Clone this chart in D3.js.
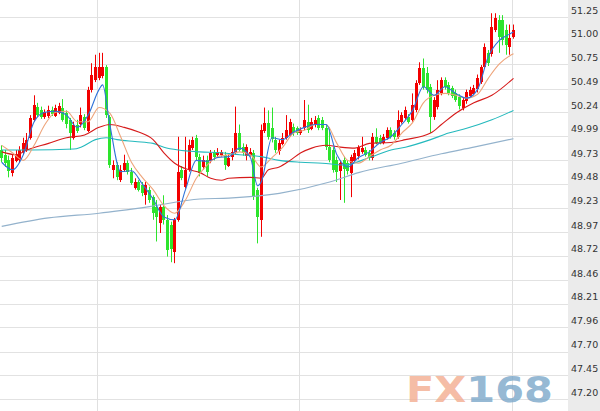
<!DOCTYPE html>
<html>
<head>
<meta charset="utf-8">
<script src="https://cdn.jsdelivr.net/npm/d3@7/dist/d3.min.js"></script>
<style>
  html, body { margin: 0; padding: 0; background: #fff; }
  svg { display: block; }
</style>
</head>
<body>
<script>
// candles, oldest first (price)
const opens = [
  49.84, 49.79, 49.73, 49.60, 49.73, 49.73, 49.81, 49.84, 49.97, 50.16,
  50.30, 50.26, 50.19, 50.20, 50.26, 50.21, 50.24, 50.29, 50.23, 50.16,
  49.97, 50.11, 50.11, 50.19, 50.05, 50.48, 50.58, 50.60, 50.62, 50.72,
  50.19, 49.63, 49.68, 49.52, 49.63, 49.70, 49.61, 49.44, 49.50, 49.47,
  49.36, 49.42, 49.34, 49.24, 49.07, 49.24, 49.10, 49.05, 48.76, 49.10,
  49.63, 49.45, 49.63, 49.87, 49.97, 49.77, 49.66, 49.73, 49.73, 49.82,
  49.79, 49.79, 49.79, 49.68, 49.77, 49.81, 50.02, 49.87, 49.77, 49.79,
  49.81, 49.42, 49.10, 50.05, 50.13, 50.07, 49.95, 49.82, 49.91, 49.97,
  50.00, 50.08, 50.07, 50.02, 50.07, 50.14, 50.07, 50.11, 50.18, 50.16,
  50.07, 49.87, 49.84, 49.73, 49.61, 49.73, 49.70, 49.60, 49.73, 49.77,
  49.82, 49.84, 49.81, 49.76, 49.98, 49.97, 49.92, 49.97, 50.05, 50.02,
  49.98, 50.14, 50.18, 50.19, 50.16, 50.26, 50.55, 50.71, 50.66, 50.51,
  50.19, 50.30, 50.44, 50.58, 50.53, 50.50, 50.44, 50.40, 50.29, 50.35,
  50.42, 50.44, 50.48, 50.56, 50.72, 50.87, 50.85, 51.11, 51.22, 51.22,
  51.11, 50.93, 51.04
];
const highs = [
  49.89, 49.84, 49.78, 49.79, 49.84, 49.88, 49.97, 50.02, 50.21, 50.42,
  50.34, 50.30, 50.27, 50.31, 50.30, 50.32, 50.34, 50.38, 50.26, 50.18,
  50.14, 50.16, 50.29, 50.22, 50.51, 50.76, 50.85, 50.87, 50.87, 50.74,
  50.21, 49.73, 49.71, 49.68, 49.79, 49.73, 49.65, 49.54, 49.52, 49.50,
  49.50, 49.45, 49.36, 49.31, 49.26, 49.36, 49.15, 49.08, 49.12, 49.98,
  49.67, 49.98, 49.95, 49.98, 50.00, 49.80, 49.78, 49.78, 49.84, 49.84,
  49.86, 49.84, 49.82, 49.79, 49.86, 50.30, 50.11, 49.91, 49.90, 49.86,
  49.84, 49.44, 50.11, 50.29, 50.26, 50.29, 49.98, 49.95, 50.02, 50.21,
  50.17, 50.12, 50.09, 50.08, 50.37, 50.32, 50.18, 50.20, 50.21, 50.19,
  50.11, 50.08, 49.87, 49.77, 49.73, 49.77, 49.73, 49.79, 49.84, 49.89,
  49.98, 49.87, 49.84, 50.02, 50.07, 50.00, 50.01, 50.08, 50.08, 50.05,
  50.26, 50.24, 50.30, 50.22, 50.44, 50.58, 50.77, 50.81, 50.72, 50.54,
  50.40, 50.58, 50.61, 50.61, 50.56, 50.52, 50.48, 50.43, 50.40, 50.48,
  50.51, 50.53, 50.64, 50.74, 50.97, 50.90, 51.29, 51.29, 51.27, 51.27,
  51.17, 51.17, 51.17
];
const lows = [
  49.71, 49.66, 49.55, 49.56, 49.71, 49.71, 49.79, 49.82, 49.95, 50.14,
  50.19, 50.17, 50.17, 50.18, 50.20, 50.19, 50.22, 50.14, 50.07, 49.84,
  49.95, 50.02, 50.08, 50.05, 50.03, 50.45, 50.56, 50.58, 50.60, 50.18,
  49.65, 49.54, 49.52, 49.50, 49.61, 49.58, 49.47, 49.42, 49.40, 49.35,
  49.26, 49.28, 49.10, 48.87, 48.96, 49.05, 48.71, 48.65, 48.64, 49.08,
  49.52, 49.43, 49.61, 49.84, 49.73, 49.56, 49.63, 49.56, 49.70, 49.73,
  49.76, 49.77, 49.63, 49.66, 49.73, 49.79, 49.82, 49.78, 49.73, 49.77,
  49.31, 48.85, 48.92, 50.02, 49.95, 49.92, 49.81, 49.79, 49.89, 49.95,
  49.98, 49.99, 50.00, 50.00, 50.05, 50.02, 50.05, 50.08, 50.05, 50.05,
  49.84, 49.71, 49.60, 49.50, 49.31, 49.28, 49.58, 49.34, 49.71, 49.74,
  49.80, 49.77, 49.73, 49.73, 49.90, 49.90, 49.90, 49.95, 49.96, 49.95,
  49.96, 50.12, 50.16, 50.12, 50.14, 50.24, 50.53, 50.48, 50.44, 50.02,
  50.16, 50.27, 50.42, 50.48, 50.42, 50.39, 50.35, 50.27, 50.26, 50.33,
  50.40, 50.42, 50.45, 50.54, 50.70, 50.73, 50.83, 51.09, 50.87, 50.95,
  50.85, 50.85, 51.02
];
const closes = [
  49.76, 49.70, 49.61, 49.76, 49.80, 49.84, 49.91, 49.95, 50.18, 50.32,
  50.21, 50.19, 50.24, 50.26, 50.22, 50.29, 50.31, 50.16, 50.11, 50.02,
  50.11, 50.05, 50.21, 50.07, 50.48, 50.64, 50.72, 50.72, 50.72, 50.21,
  49.68, 49.68, 49.55, 49.63, 49.70, 49.60, 49.49, 49.50, 49.42, 49.38,
  49.47, 49.31, 49.17, 49.13, 49.24, 49.10, 48.78, 48.80, 49.10, 49.61,
  49.55, 49.63, 49.89, 49.95, 49.77, 49.60, 49.73, 49.60, 49.81, 49.77,
  49.82, 49.82, 49.68, 49.76, 49.82, 50.02, 49.84, 49.81, 49.87, 49.82,
  49.34, 49.13, 50.05, 50.13, 49.98, 49.95, 49.84, 49.91, 49.97, 50.05,
  50.14, 50.02, 50.02, 50.05, 50.16, 50.05, 50.14, 50.16, 50.07, 50.08,
  49.87, 49.73, 49.63, 49.60, 49.70, 49.63, 49.61, 49.77, 49.81, 49.87,
  49.86, 49.79, 49.76, 49.98, 49.92, 49.92, 49.98, 50.05, 49.98, 49.98,
  50.16, 50.21, 50.26, 50.14, 50.32, 50.55, 50.71, 50.51, 50.48, 50.19,
  50.37, 50.48, 50.58, 50.51, 50.44, 50.42, 50.37, 50.30, 50.37, 50.45,
  50.48, 50.50, 50.60, 50.72, 50.93, 50.76, 51.14, 51.24, 51.04, 51.01,
  50.95, 51.03, 51.11
];

// moving averages, read at some candle indices
const ma1Idx = [0, 3, 6, 9, 12, 15, 18, 21, 24, 27, 28, 30, 33, 36, 39, 42, 45, 48, 51, 54,
  57, 60, 63, 66, 69, 71, 72, 75, 78, 81, 84, 87, 90, 93, 96, 99, 102, 105, 108, 111,
  114, 117, 120, 123, 126, 129, 132, 135, 138, 141, 142];
const ma1 = [49.71, 49.63, 49.79, 50.14, 50.24, 50.25, 50.21, 50.08, 50.21, 50.48,
  50.53, 50.11, 49.61, 49.62, 49.48, 49.32, 49.13, 49.10, 49.42, 49.73,
  49.72, 49.76, 49.77, 49.86, 49.76, 49.46, 49.50, 49.97, 49.95, 50.03,
  50.08, 50.11, 50.11, 49.79, 49.66, 49.76, 49.82, 49.92, 49.98, 50.11,
  50.26, 50.51, 50.42, 50.51, 50.44, 50.39, 50.48, 50.83, 51.00, 51.07, 51.09];

const ma2Idx = [0, 3, 6, 9, 12, 15, 18, 21, 24, 27, 30, 33, 36, 39, 42, 45, 48, 51, 54, 57,
  60, 63, 66, 69, 72, 75, 78, 81, 84, 87, 90, 93, 96, 99, 102, 105, 108, 111, 114, 117,
  120, 123, 126, 129, 132, 135, 138, 141, 142];
const ma2 = [49.89, 49.81, 49.73, 49.89, 50.11, 50.24, 50.25, 50.14, 50.14, 50.29,
  50.23, 49.98, 49.71, 49.55, 49.42, 49.25, 49.17, 49.31, 49.54, 49.68,
  49.77, 49.79, 49.82, 49.79, 49.66, 49.76, 49.87, 50.02, 50.05, 50.11,
  50.11, 49.91, 49.73, 49.70, 49.77, 49.84, 49.89, 50.02, 50.13, 50.34,
  50.42, 50.44, 50.42, 50.39, 50.43, 50.60, 50.75, 50.84, 50.86];

const ma3Idx = [0, 4, 7, 13, 18, 23, 27, 30, 34, 38, 42, 45, 48, 52, 55, 58, 61, 63, 69, 72,
  74, 77, 80, 83, 86, 90, 94, 98, 102, 108, 112, 119, 122, 126, 131, 136, 142];
const ma3 = [49.82, 49.79, 49.84, 49.91, 49.97, 50.00, 50.08, 50.11, 50.08, 50.03,
  49.95, 49.81, 49.70, 49.63, 49.60, 49.54, 49.52, 49.54, 49.55, 49.54,
  49.63, 49.66, 49.73, 49.81, 49.86, 49.89, 49.87, 49.86, 49.91, 49.92,
  49.95, 50.02, 50.11, 50.23, 50.34, 50.42, 50.60];

const ma4Idx = [0, 8, 20, 22, 26, 29, 32, 37, 42, 45, 49, 55, 61, 66, 72, 77, 83, 89, 95, 102,
  108, 112, 119, 124, 129, 136, 142];
const ma4 = [49.84, 49.84, 49.85, 49.87, 49.95, 49.97, 49.95, 49.93, 49.91, 49.87,
  49.84, 49.82, 49.81, 49.79, 49.77, 49.73, 49.71, 49.70, 49.68, 49.76,
  49.84, 49.87, 49.95, 50.02, 50.07, 50.16, 50.26];

const ma5Idx = [0, 13, 27, 41, 55, 63, 77, 91, 99, 111, 122, 131, 142];
const ma5 = [49.03, 49.12, 49.17, 49.24, 49.32, 49.33, 49.38, 49.50, 49.60, 49.70, 49.80, 49.87, 49.96];

// price axis labels
const tickLabels = ['51.25', '51.00', '50.75', '50.49', '50.24', '49.99', '49.73', '49.48', '49.23',
  '48.97', '48.72', '48.46', '48.21', '47.96', '47.70', '47.45', '47.20'];

// candle indices where a new session starts
const sessionStarts = [27, 83, 142];

// layout
const width = 600;
const height = 411;
const plotRight = 568;

const x = d3.scaleBand()
  .domain(d3.range(opens.length))
  .range([0.2, 515])
  .paddingInner(0.17);
const y = d3.scaleLinear()
  .domain([47.20, 51.25])
  .range([399, 17]);

const svg = d3.select('body').append('svg')
  .attr('width', width)
  .attr('height', height);

// axis strip
svg.append('rect')
  .attr('x', plotRight).attr('y', 0)
  .attr('width', width - plotRight).attr('height', height)
  .attr('fill', '#ebebeb');

// horizontal grid
const grid = svg.append('g')
  .attr('transform', `translate(${plotRight},0)`)
  .call(d3.axisLeft(y).tickValues(tickLabels.map(Number)).tickSize(plotRight).tickFormat(''));
grid.select('.domain').remove();
grid.selectAll('line').attr('stroke', '#e2e2e2').attr('shape-rendering', 'crispEdges');

// session separators
svg.append('g').selectAll('line')
  .data(sessionStarts)
  .join('line')
  .attr('x1', (d) => Math.round(x(d) - x.step() * x.paddingInner() / 2) + 0.5)
  .attr('x2', (d) => Math.round(x(d) - x.step() * x.paddingInner() / 2) + 0.5)
  .attr('y1', 0).attr('y2', height)
  .attr('stroke', '#e0e0e0');

// watermark (stretched wide like the logo)
const mark = svg.append('text')
  .attr('x', 406).attr('y', 402)
  .attr('font-family', '"DejaVu Sans", sans-serif')
  .attr('font-weight', 'bold')
  .attr('font-size', 36)
  .attr('textLength', 147)
  .attr('lengthAdjust', 'spacingAndGlyphs');
mark.append('tspan').attr('fill', '#f3ab8e').attr('fill-opacity', 0.8).text('FX');
mark.append('tspan').attr('fill', '#79a6c9').attr('fill-opacity', 0.8).text('168');

// price labels
const axis = svg.append('g')
  .attr('transform', `translate(${plotRight},0)`)
  .call(d3.axisRight(y).tickValues(tickLabels.map(Number)).tickSize(0).tickPadding(3)
    .tickFormat((d, i) => tickLabels[i]));
axis.select('.domain').remove();
axis.selectAll('text')
  .attr('y', -7)
  .attr('fill', '#333')
  .attr('font-family', '"DejaVu Sans", Verdana, sans-serif')
  .attr('font-size', 9.5);

// candles
const candles = svg.append('g')
  .selectAll('g')
  .data(opens.map((o, i) => ({ i, o, h: highs[i], l: lows[i], c: closes[i] })))
  .join('g');
const upColor = '#f20000';
const downColor = '#2de42d';
const color = (d) => (d.c >= d.o ? upColor : downColor);
const left = (d) => Math.round(x(d.i));

candles.append('line')
  .attr('x1', (d) => left(d) + 1.5)
  .attr('x2', (d) => left(d) + 1.5)
  .attr('y1', (d) => y(d.h))
  .attr('y2', (d) => y(d.l))
  .attr('stroke', color);

candles.append('rect')
  .attr('x', left)
  .attr('width', 3)
  .attr('y', (d) => Math.round(y(Math.max(d.o, d.c))))
  .attr('height', (d) => Math.max(1, Math.round(Math.abs(y(d.o) - y(d.c)))))
  .attr('fill', color)
  .attr('shape-rendering', 'crispEdges');

// moving average lines
const maLine = d3.line()
  .x((d) => x(d[0]) + x.bandwidth() / 2)
  .y((d) => y(d[1]))
  .curve(d3.curveMonotoneX);
const maSeries = [
  { idx: ma5Idx, vals: ma5, color: '#93b2cc' },
  { idx: ma4Idx, vals: ma4, color: '#24b9bd' },
  { idx: ma3Idx, vals: ma3, color: '#d61a1a' },
  { idx: ma2Idx, vals: ma2, color: '#eea47a' },
  { idx: ma1Idx, vals: ma1, color: '#2f73d9' },
];
svg.append('g').selectAll('path')
  .data(maSeries)
  .join('path')
  .attr('d', (s) => maLine(s.idx.map((k, j) => [k, s.vals[j]])))
  .attr('fill', 'none')
  .attr('stroke', (s) => s.color)
  .attr('stroke-width', 1.1);
</script>
</body>
</html>
